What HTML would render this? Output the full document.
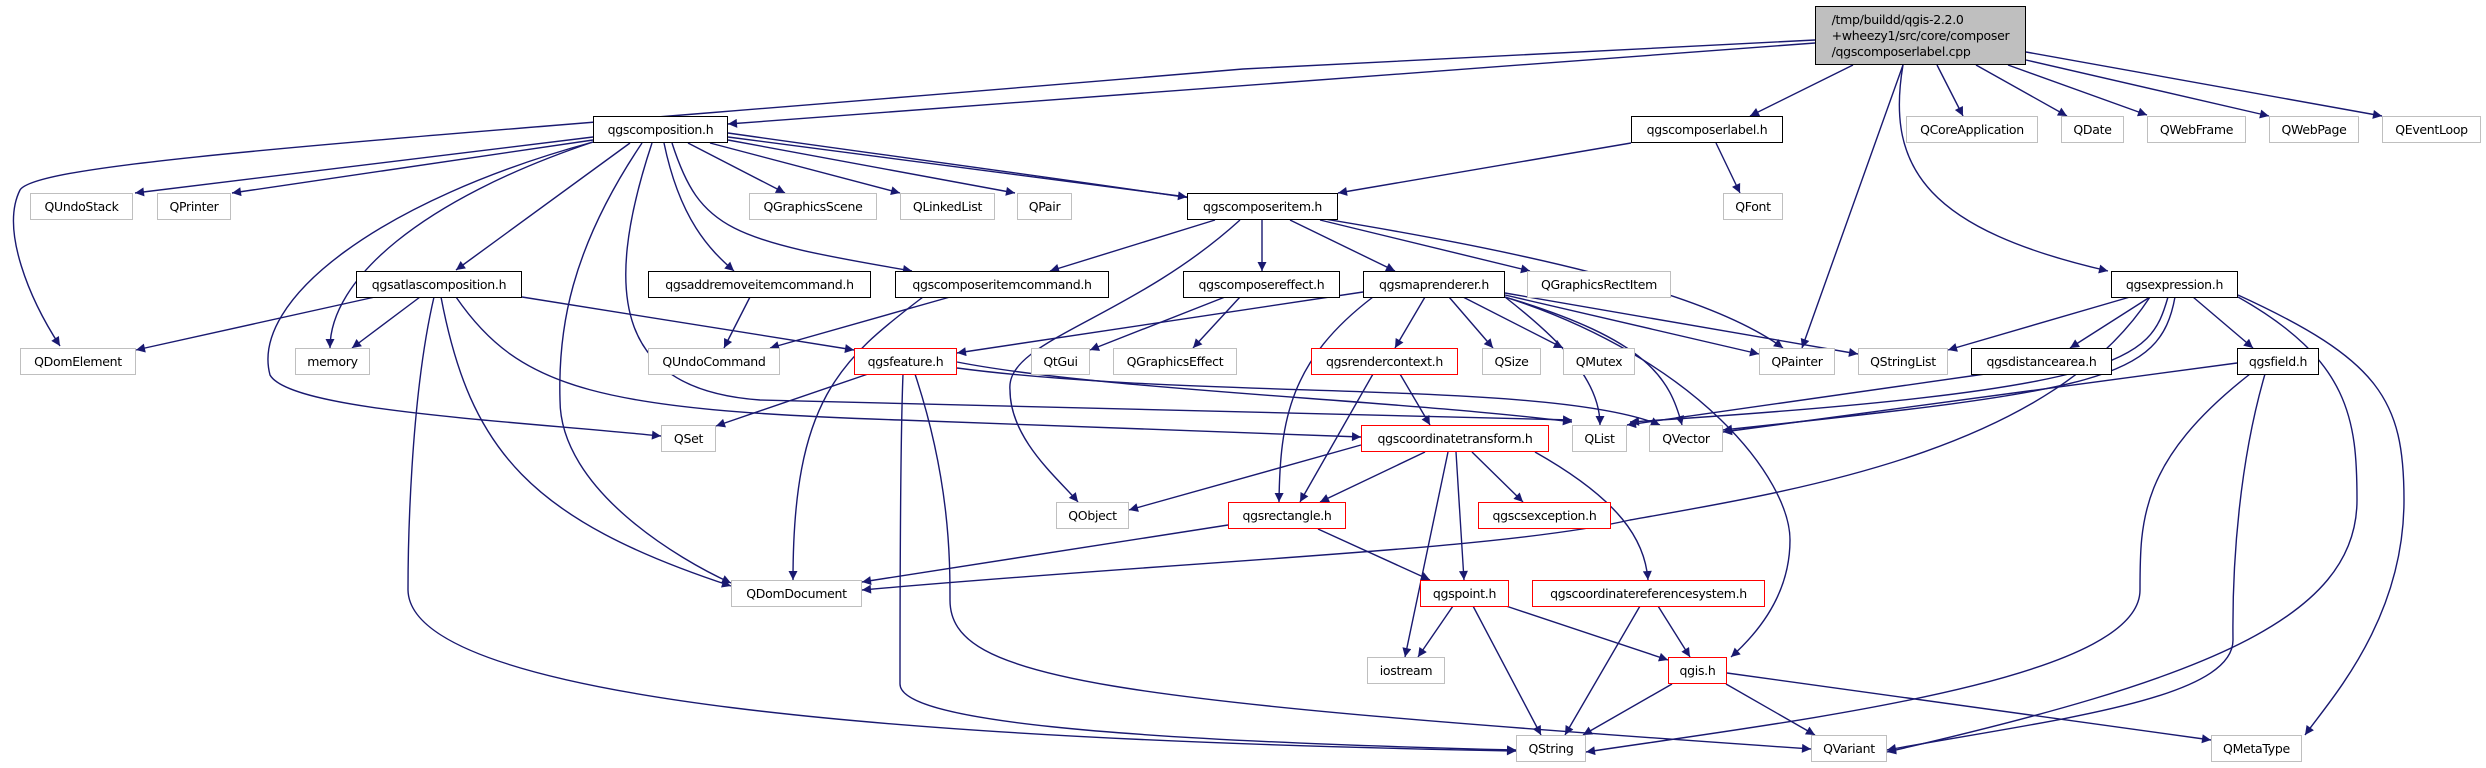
<!DOCTYPE html>
<html><head><meta charset="utf-8"><style>
body{margin:0;background:#fff;width:2486px;height:768px;overflow:hidden;position:relative;font-family:"DejaVu Sans","Liberation Sans",sans-serif}
.n{position:absolute;box-sizing:border-box;border:1.5px solid #000;background:#fff;font-size:12.5px;display:flex;align-items:center;justify-content:center;white-space:nowrap;color:#000;letter-spacing:-0.3px}
.g{border-color:#bfbfbf}
.r{border-color:#ff0000}
svg{position:absolute;left:0;top:0}
</style></head><body>
<svg width="2486" height="768" viewBox="0 0 2486 768">
<defs><marker id="a" viewBox="0 0 10 10" refX="10" refY="5" markerWidth="11" markerHeight="9" markerUnits="userSpaceOnUse" orient="auto"><path d="M0,0L10,5L0,10z" fill="#191970"/></marker></defs>
<g fill="none" stroke="#191970" stroke-width="1.4" marker-end="url(#a)">
<path d="M1815,43L728,124"/>
<path d="M1815,40L1243,69C400,140 40,160 20,190C0,230 30,300 60,346"/>
<path d="M1853,65L1750,116"/>
<path d="M1903,65L1802,348"/>
<path d="M1937,65L1963,116"/>
<path d="M1976,65L2067,116"/>
<path d="M2008,65L2147,115"/>
<path d="M2026,60L2269,116"/>
<path d="M2026,52L2382,116"/>
<path d="M1903,65C1885,170 1930,230 2108,271"/>
<path d="M593,137L135,193"/>
<path d="M593,140L232,193"/>
<path d="M593,142C380,200 250,300 270,375C290,410 500,420 661,436"/>
<path d="M593,142C420,200 330,280 330,348"/>
<path d="M630,143L456,270"/>
<path d="M642,143C570,250 558,330 560,400C560,490 680,560 731,583"/>
<path d="M652,143C600,300 620,390 760,400L1572,420"/>
<path d="M664,143C680,220 710,250 734,271"/>
<path d="M672,143C700,230 730,240 912,271"/>
<path d="M688,143L785,193"/>
<path d="M710,143L900,193"/>
<path d="M728,140L1015,193"/>
<path d="M728,137L1187,197"/>
<path d="M728,133C1200,200 1650,250 1783,348"/>
<path d="M923,297C840,360 793,400 793,580"/>
<path d="M903,374C900,450 900,600 900,684C900,720 1100,740 1516,750"/>
<path d="M915,374C950,480 950,560 950,600C950,680 1100,700 1811,749"/>
<path d="M434,297C410,400 408,550 408,590C410,700 900,740 1516,751"/>
<path d="M441,297C470,450 530,520 731,586"/>
<path d="M456,297C520,390 600,410 900,420L1361,437"/>
<path d="M868,374L716,426"/>
<path d="M1240,220C1130,320 1005,340 1010,390C1010,440 1060,480 1078,502"/>
<path d="M1361,445L1129,510"/>
<path d="M1228,525L862,582"/>
<path d="M2150,297C2050,450 1800,490 1630,520C1500,550 1200,560 862,590"/>
<path d="M375,297L136,350"/>
<path d="M420,297L352,348"/>
<path d="M522,297L854,350"/>
<path d="M750,297L724,348"/>
<path d="M950,297L770,348"/>
<path d="M1215,220L1050,271"/>
<path d="M1262,220L1262,271"/>
<path d="M1290,220L1395,271"/>
<path d="M1320,220L1530,271"/>
<path d="M1631,143L1338,193"/>
<path d="M1716,143L1740,193"/>
<path d="M1225,297L1090,350"/>
<path d="M1240,297L1193,348"/>
<path d="M1363,292L957,353"/>
<path d="M1373,297C1290,360 1280,420 1279,502"/>
<path d="M1425,297L1395,348"/>
<path d="M1449,297L1493,348"/>
<path d="M1463,297L1563,348"/>
<path d="M1505,295L1759,354"/>
<path d="M1505,293L1858,354"/>
<path d="M1505,297C1650,340 1670,380 1682,425"/>
<path d="M1505,297C1700,360 1790,480 1790,540C1790,600 1750,640 1731,657"/>
<path d="M1505,297C1560,340 1600,380 1600,425"/>
<path d="M1400,374L1430,425"/>
<path d="M1373,374L1300,502"/>
<path d="M957,362C1100,390 1400,400 1572,422"/>
<path d="M957,368C1200,400 1550,380 1660,425"/>
<path d="M1425,452L1320,502"/>
<path d="M1472,452L1523,502"/>
<path d="M1456,452L1464,580"/>
<path d="M1448,452L1405,657"/>
<path d="M1535,452C1620,500 1645,540 1648,580"/>
<path d="M1318,529L1430,580"/>
<path d="M1453,606L1418,657"/>
<path d="M1473,606L1541,735"/>
<path d="M1506,606L1668,660"/>
<path d="M1640,606L1565,735"/>
<path d="M1658,606L1690,657"/>
<path d="M1672,684L1583,735"/>
<path d="M1726,684L1815,735"/>
<path d="M1727,673L2211,740"/>
<path d="M2130,297L1948,350"/>
<path d="M2150,297L2070,348"/>
<path d="M2193,297L2253,348"/>
<path d="M2168,297C2150,360 2130,390 1630,422"/>
<path d="M2175,297C2160,380 2100,390 1723,430"/>
<path d="M2238,297C2350,360 2357,420 2357,500C2357,620 2200,680 1887,752"/>
<path d="M2238,295C2380,360 2404,400 2404,500C2404,620 2330,700 2305,735"/>
<path d="M2250,374C2140,460 2140,520 2140,590C2140,680 1800,720 1586,752"/>
<path d="M2265,374C2240,460 2232,560 2233,640C2233,700 2050,720 1887,750"/>
<path d="M2237,363L1723,432"/>
<path d="M1985,374L1627,425"/>
</g></svg>
<div class="n" style="left:1815px;top:6px;width:211px;height:59px;background:#bfbfbf;flex-direction:column;line-height:16px">/tmp/buildd/qgis-2.2.0<br>+wheezy1/src/core/composer<br>/qgscomposerlabel.cpp</div>
<div class="n" style="left:593px;top:116px;width:135px;height:27px">qgscomposition.h</div>
<div class="n" style="left:1631px;top:116px;width:152px;height:27px">qgscomposerlabel.h</div>
<div class="n g" style="left:1906px;top:116px;width:132px;height:27px">QCoreApplication</div>
<div class="n g" style="left:2061px;top:116px;width:63px;height:27px">QDate</div>
<div class="n g" style="left:2147px;top:116px;width:99px;height:27px">QWebFrame</div>
<div class="n g" style="left:2269px;top:116px;width:90px;height:27px">QWebPage</div>
<div class="n g" style="left:2382px;top:116px;width:99px;height:27px">QEventLoop</div>
<div class="n g" style="left:30px;top:193px;width:103px;height:27px">QUndoStack</div>
<div class="n g" style="left:157px;top:193px;width:74px;height:27px">QPrinter</div>
<div class="n g" style="left:749px;top:193px;width:128px;height:27px">QGraphicsScene</div>
<div class="n g" style="left:900px;top:193px;width:95px;height:27px">QLinkedList</div>
<div class="n g" style="left:1017px;top:193px;width:55px;height:27px">QPair</div>
<div class="n" style="left:1187px;top:193px;width:151px;height:27px">qgscomposeritem.h</div>
<div class="n g" style="left:1723px;top:193px;width:60px;height:27px">QFont</div>
<div class="n" style="left:356px;top:271px;width:166px;height:27px">qgsatlascomposition.h</div>
<div class="n" style="left:648px;top:271px;width:223px;height:27px">qgsaddremoveitemcommand.h</div>
<div class="n" style="left:895px;top:271px;width:214px;height:27px">qgscomposeritemcommand.h</div>
<div class="n" style="left:1183px;top:271px;width:157px;height:27px">qgscomposereffect.h</div>
<div class="n" style="left:1363px;top:271px;width:142px;height:27px">qgsmaprenderer.h</div>
<div class="n g" style="left:1527px;top:271px;width:144px;height:27px">QGraphicsRectItem</div>
<div class="n" style="left:2111px;top:271px;width:127px;height:27px">qgsexpression.h</div>
<div class="n g" style="left:20px;top:348px;width:116px;height:27px">QDomElement</div>
<div class="n g" style="left:295px;top:348px;width:75px;height:27px">memory</div>
<div class="n g" style="left:648px;top:348px;width:132px;height:27px">QUndoCommand</div>
<div class="n r" style="left:854px;top:348px;width:103px;height:27px">qgsfeature.h</div>
<div class="n g" style="left:1031px;top:348px;width:59px;height:27px">QtGui</div>
<div class="n g" style="left:1113px;top:348px;width:124px;height:27px">QGraphicsEffect</div>
<div class="n r" style="left:1311px;top:348px;width:147px;height:27px">qgsrendercontext.h</div>
<div class="n g" style="left:1482px;top:348px;width:59px;height:27px">QSize</div>
<div class="n g" style="left:1563px;top:348px;width:72px;height:27px">QMutex</div>
<div class="n g" style="left:1759px;top:348px;width:76px;height:27px">QPainter</div>
<div class="n g" style="left:1858px;top:348px;width:90px;height:27px">QStringList</div>
<div class="n" style="left:1971px;top:348px;width:141px;height:27px">qgsdistancearea.h</div>
<div class="n" style="left:2237px;top:348px;width:82px;height:27px">qgsfield.h</div>
<div class="n g" style="left:661px;top:425px;width:55px;height:27px">QSet</div>
<div class="n r" style="left:1361px;top:425px;width:188px;height:27px">qgscoordinatetransform.h</div>
<div class="n g" style="left:1572px;top:425px;width:55px;height:27px">QList</div>
<div class="n g" style="left:1649px;top:425px;width:74px;height:27px">QVector</div>
<div class="n g" style="left:1056px;top:502px;width:73px;height:27px">QObject</div>
<div class="n r" style="left:1228px;top:502px;width:118px;height:27px">qgsrectangle.h</div>
<div class="n r" style="left:1478px;top:502px;width:133px;height:27px">qgscsexception.h</div>
<div class="n g" style="left:731px;top:580px;width:131px;height:27px">QDomDocument</div>
<div class="n r" style="left:1420px;top:580px;width:89px;height:27px">qgspoint.h</div>
<div class="n r" style="left:1532px;top:580px;width:233px;height:27px">qgscoordinatereferencesystem.h</div>
<div class="n g" style="left:1367px;top:657px;width:78px;height:27px">iostream</div>
<div class="n r" style="left:1668px;top:657px;width:59px;height:27px">qgis.h</div>
<div class="n g" style="left:1516px;top:735px;width:70px;height:27px">QString</div>
<div class="n g" style="left:1811px;top:735px;width:76px;height:27px">QVariant</div>
<div class="n g" style="left:2211px;top:735px;width:91px;height:27px">QMetaType</div>
</body></html>
